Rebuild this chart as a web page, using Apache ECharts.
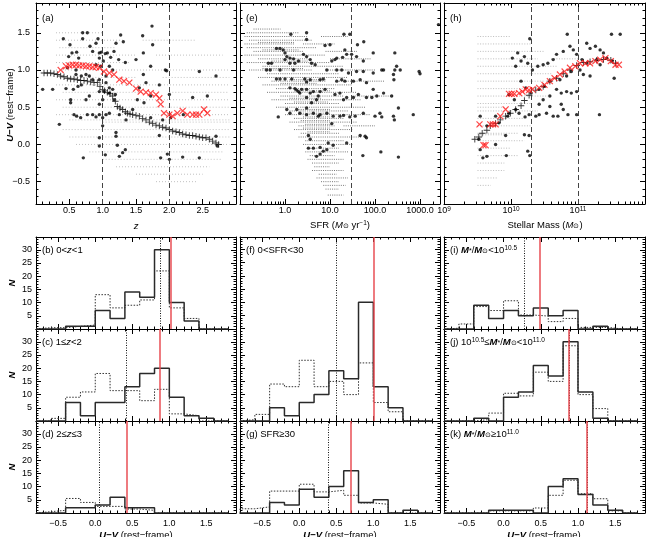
<!DOCTYPE html>
<html><head><meta charset="utf-8">
<script src="https://cdn.jsdelivr.net/npm/echarts@6/dist/echarts.min.js"></script>
<style>html,body{margin:0;padding:0;background:#fff}#c{width:650px;height:537px}</style>
</head><body><div id="c"></div><script>
// ---------------- DATA ----------------
// Panel (a): redshift z vs U-V
const aBlack = [[0.41,1.42],[0.51,1.34],[0.54,1.23],[0.49,1.18],[0.70,1.50],[0.61,1.24],[0.64,1.16],[0.70,1.42],[0.77,1.50],[0.81,1.32],[0.85,1.25],[0.90,1.36],[0.93,1.42],[0.95,1.23],[0.98,1.24],[1.04,1.22],[1.07,1.23],[1.12,1.17],[1.17,1.25],[1.20,1.36],[1.24,1.14],[1.27,1.47],[1.31,1.38],[1.34,1.10],[1.50,1.14],[1.60,1.46],[1.61,1.23],[1.74,1.59],[1.75,1.34],[1.61,0.94],[1.72,1.05],[1.94,1.00],[1.96,0.99],[2.45,0.98],[2.70,0.92],[2.57,0.65],
[0.47,1.03],[0.60,0.94],[0.68,0.92],[0.75,0.94],[0.80,0.92],[0.90,1.07],[0.95,1.16],[0.97,1.05],[1.01,1.12],[1.05,0.92],[1.10,1.05],[1.15,1.00],[0.85,0.87],[0.95,0.87],[0.68,0.80],[0.63,0.78],[0.56,0.74],[0.45,0.75],[0.25,0.74],[0.60,1.00],[1.05,0.83],[1.10,0.76],[0.95,0.71],[1.02,0.71],[1.10,0.69],[1.15,0.74],[1.17,0.60],[1.19,0.67],[0.80,0.65],[0.75,0.60],[0.95,0.54],[1.00,0.60],[1.55,0.76],[1.65,0.83],[1.72,0.65],[1.85,0.80],[2.00,0.67],
[0.52,0.60],[0.52,0.56],[0.57,0.40],[0.61,0.38],[0.67,0.36],[0.77,0.40],[0.85,0.40],[0.90,0.37],[0.95,0.40],[1.05,0.40],[1.10,0.42],[1.25,0.40],[1.35,0.33],[1.45,0.47],[1.52,0.60],[1.62,0.56],[1.72,0.36],[1.90,0.33],[2.02,0.36],[2.21,0.40],[2.35,0.63],[0.35,0.27],[1.00,0.25],[1.00,0.36],[1.20,0.16],
[0.95,-0.02],[0.95,0.09],[1.04,-0.14],[1.20,0.11],[1.22,-0.01],[1.25,-0.16],[1.30,-0.11],[1.34,-0.07],[1.85,0.12],[1.87,-0.18],[1.97,-0.13],[2.00,-0.20],[2.20,-0.17],[2.45,-0.18],[2.70,0.11],[2.72,-0.02],[0.71,-0.18],[0.10,0.74]];
const aPlus = [[0.12,0.96],[0.17,0.96],[0.22,0.96],[0.27,0.95],[0.32,0.94],[0.37,0.92],[0.42,0.91],[0.47,0.89],[0.52,0.88],[0.57,0.88],[0.62,0.87],[0.67,0.86],[0.72,0.86],[0.77,0.85],[0.82,0.84],[0.87,0.83],[0.92,0.83],[0.96,0.78],[1.00,0.74],[1.03,0.72],[1.07,0.70],[1.11,0.68],[1.15,0.65],[1.19,0.58],[1.22,0.51],[1.26,0.49],[1.30,0.47],[1.34,0.44],[1.37,0.42],[1.41,0.41],[1.45,0.40],[1.50,0.39],[1.55,0.38],[1.60,0.35],[1.65,0.33],[1.70,0.30],[1.75,0.28],[1.80,0.26],[1.85,0.25],[1.90,0.23],[1.95,0.22],[2.00,0.20],[2.05,0.18],[2.10,0.17],[2.15,0.16],[2.20,0.14],[2.25,0.13],[2.30,0.12],[2.35,0.12],[2.40,0.11],[2.45,0.10],[2.50,0.09],[2.55,0.09],[2.60,0.07],[2.65,0.045],[2.70,0.02],[2.74,0.0]];
const aCross = [[0.37,1.00],[0.45,1.05],[0.50,1.06],[0.55,1.07],[0.60,1.07],[0.65,1.06],[0.70,1.06],[0.75,1.05],[0.80,1.05],[0.85,1.04],[0.90,1.04],[0.95,1.03],[1.02,0.98],[1.10,0.96],[1.17,0.94],[1.25,0.87],[1.32,0.85],[1.40,0.83],[1.50,0.75],[1.57,0.71],[1.65,0.70],[1.72,0.69],[1.80,0.67],[1.85,0.62],[1.87,0.54],[1.92,0.42],[2.00,0.40],[2.05,0.38],[2.12,0.42],[2.20,0.45],[2.27,0.40],[2.35,0.40],[2.40,0.40],[2.45,0.40],[2.52,0.47],[2.57,0.42]];
// grey background streaks: [x_start, x_end, U-V]
const aGrey = [[0.3,1.0,1.5],[0.3,1.3,1.4],[1.6,2.4,1.4],[0.35,1.2,1.3],[0.3,1.5,1.2],[1.8,2.8,1.2],[0.3,1.4,1.1],[0.3,2.9,1.0],[0.35,1.5,0.9],[1.9,2.9,0.9],[0.3,2.9,0.8],[0.4,1.6,0.7],[2.0,2.9,0.7],[0.3,2.9,0.6],[0.4,2.9,0.5],[0.3,2.9,0.4],[0.5,2.9,0.33],[1.0,2.9,0.3],[0.4,2.9,0.2],[0.5,2.9,0.1],[0.6,2.9,0.0],[0.8,2.8,-0.1],[1.0,2.8,-0.2],[1.2,2.6,-0.3],[1.5,2.5,-0.4],[1.8,2.4,-0.5]];

// Panel (e): log10 SFR vs U-V
const eBlackLogSFR = [[0.13,1.48],[0.48,1.50],[0.48,1.41],[1.31,1.48],[1.44,1.48],[1.75,1.38],[1.61,1.34],[1.0,1.34],[0.89,1.33],[1.33,1.27],[1.37,1.21],[1.28,1.17],[1.15,1.16],[1.11,1.14],[1.04,1.12],[1.48,1.21],[1.59,1.18],[1.74,1.12],[1.96,1.23],[2.44,1.23],[2.48,1.05],[2.44,1.0],[2.56,1.0],[2.41,0.94],[2.42,0.87],[2.98,0.98],[3.0,0.95],[3.41,1.61],[2.19,1.0],[2.15,1.0],[1.96,0.96],[1.74,0.98],[1.59,0.98],[1.41,0.96],[1.26,1.0],[1.15,1.0],[0.93,1.0],[0.67,1.07],[0.59,1.09],[0.56,1.14],[0.48,1.18],[0.41,1.21],[0.30,1.12],[0.22,1.09],[0.11,1.09],[0.04,1.18],[0.0,1.23],[-0.04,1.27],[-0.11,1.29],[-0.19,1.29],[0.0,1.14],[0.11,1.16],[0.19,1.15],[-0.30,1.09],[-0.33,1.0],[-0.41,1.0],[-0.37,1.09],[-0.11,1.0],[0.19,1.0],[-0.19,0.88],[-0.11,0.88],[0.0,0.88],[0.15,0.88],[0.44,0.88],[0.48,0.84],[0.56,0.87],[0.78,0.87],[0.85,0.88],[1.15,0.85],[1.26,0.87],[1.33,0.85],[1.52,0.85],[1.67,0.87],[1.81,0.83],[0.11,0.76],[0.22,0.75],[0.30,0.71],[0.33,0.69],[0.26,0.73],[0.37,0.74],[0.48,0.74],[0.56,0.69],[0.63,0.71],[0.78,0.71],[0.89,0.74],[1.11,0.67],[1.22,0.69],[1.30,0.60],[1.37,0.63],[1.52,0.63],[1.63,0.67],[1.81,0.63],[1.93,0.63],[1.96,0.74],[2.04,0.65],[2.19,0.69],[2.37,0.65],[0.48,0.63],[0.70,0.60],[0.74,0.65],[0.59,0.56],[0.48,0.49],[0.26,0.47],[0.04,0.47],[-0.15,0.37],[0.11,0.42],[0.33,0.42],[0.48,0.40],[0.63,0.42],[0.74,0.38],[0.78,0.40],[0.93,0.42],[1.07,0.38],[1.22,0.38],[1.30,0.39],[1.44,0.37],[1.56,0.38],[1.74,0.42],[2.0,0.38],[2.11,0.42],[2.15,0.37],[2.41,0.38],[2.43,0.33],[2.52,0.49],[2.85,0.40],[1.04,0.28],[0.52,0.12],[0.56,0.07],[1.37,0.02],[1.67,0.12],[1.78,0.11],[1.81,0.09],[1.07,-0.01],[0.93,-0.07],[0.85,-0.09],[0.78,-0.13],[0.70,-0.16],[0.52,-0.05],[0.63,-0.05],[0.78,-0.04],[0.96,0.02],[1.73,-0.15],[2.13,-0.10],[2.52,-0.17]];
const eGreyLogSFR = [[-0.7,-0.1,1.55],[-0.85,0.3,1.50],[-0.9,0.5,1.45],[0.8,1.4,1.45],[-0.8,0.6,1.40],[-0.6,0.2,1.37],[-0.9,0.2,1.35],[0.4,1.1,1.35],[-0.85,0.7,1.30],[-0.5,0.3,1.27],[-0.7,0.4,1.25],[0.9,1.6,1.25],[-0.9,0.9,1.20],[-0.6,0.5,1.15],[1.0,1.9,1.15],[-0.3,0.5,1.12],[-0.85,1.0,1.10],[-0.5,1.3,1.05],[-0.8,0.6,1.00],[0.9,2.0,1.00],[-0.5,0.4,1.02],[-0.4,1.2,0.95],[-0.6,1.4,0.90],[0.1,0.9,0.87],[-0.3,0.9,0.85],[1.2,2.2,0.85],[-0.1,0.7,0.82],[-0.5,1.5,0.80],[-0.2,1.1,0.75],[0.2,1.0,0.72],[-0.4,1.6,0.70],[-0.1,1.3,0.65],[1.5,2.4,0.65],[0.1,0.8,0.62],[-0.3,1.7,0.60],[0.2,0.95,0.57],[0.0,1.2,0.55],[-0.2,1.8,0.50],[0.3,1.0,0.47],[0.1,1.4,0.45],[0.3,1.0,0.42],[0.0,1.9,0.40],[0.4,1.0,0.37],[0.2,1.3,0.35],[0.35,1.0,0.32],[0.1,1.6,0.30],[0.45,1.05,0.27],[0.3,1.1,0.25],[1.3,2.0,0.25],[0.4,1.0,0.22],[0.2,1.5,0.20],[0.5,1.0,0.17],[0.35,1.2,0.15],[0.3,1.7,0.10],[0.45,1.3,0.05],[0.4,1.5,0.00],[0.5,1.2,-0.05],[0.45,1.4,-0.10],[0.55,1.1,-0.15],[0.5,1.3,-0.20],[0.6,1.2,-0.25],[0.65,1.0,-0.30],[0.6,1.3,-0.35],[0.75,1.15,-0.40],[0.7,1.4,-0.45],[0.8,1.2,-0.50],[0.85,1.35,-0.55],[0.9,1.2,-0.60],[0.95,1.3,-0.68]];

// Panel (h): log10 stellar mass vs U-V
const hBlackLogM = [[10.28,1.42],[10.84,1.48],[11.50,1.48],[11.63,1.48],[11.13,1.36],[11.18,1.29],[11.26,1.32],[11.33,1.27],[11.38,1.23],[11.43,1.16],[11.51,1.12],[11.33,1.07],[11.28,1.14],[11.13,1.09],[11.06,1.14],[10.98,1.21],[10.93,1.27],[10.88,1.32],[10.78,1.25],[10.68,1.21],[10.63,1.14],[10.55,1.09],[10.48,1.07],[10.40,1.05],[10.32,1.0],[10.25,1.09],[10.20,1.18],[10.15,1.12],[10.10,1.23],[10.07,1.05],[10.02,1.16],[11.03,1.0],[11.08,0.94],[11.18,0.92],[10.90,0.98],[10.83,0.92],[10.73,0.87],[10.58,0.85],[10.50,0.78],[10.42,0.74],[10.30,0.69],[10.22,0.76],[10.15,0.85],[10.68,0.74],[10.75,0.69],[10.83,0.71],[10.90,0.69],[10.98,0.71],[10.58,0.65],[10.48,0.60],[10.42,0.54],[10.58,0.51],[10.75,0.54],[10.78,0.47],[10.63,0.38],[10.70,0.38],[10.53,0.42],[10.42,0.40],[10.37,0.38],[10.27,0.40],[10.21,0.37],[10.85,0.40],[10.98,0.40],[11.32,0.40],[10.20,0.13],[10.27,0.12],[10.25,-0.09],[10.28,-0.15],[9.92,0.12],[9.77,0.0],[9.64,-0.16],[9.54,-0.07],[9.58,-0.18],[9.93,-0.15],[9.54,0.38],[9.77,0.38],[9.95,0.38],[9.64,0.25],[9.82,0.29],[9.52,0.07],[9.97,0.42],[10.07,0.47],[10.12,0.42],[10.05,0.60],[9.97,0.67],[11.54,0.89]];
const hPlusLogM = [[9.46,0.07],[9.52,0.10],[9.57,0.15],[9.64,0.19],[9.69,0.25],[9.77,0.28],[9.84,0.33],[9.92,0.38],[9.99,0.42],[10.07,0.47],[10.15,0.52],[10.20,0.59],[10.27,0.66],[10.37,0.73],[10.48,0.78],[10.58,0.85],[10.68,0.89],[10.78,0.95],[10.88,1.0],[10.98,1.06],[11.08,1.10],[11.18,1.11],[11.28,1.13],[11.38,1.14],[11.49,1.13],[11.56,1.09]];
const hCrossLogM = [[9.53,0.27],[9.59,-0.01],[9.62,-0.01],[9.69,0.27],[9.73,0.27],[9.77,0.27],[9.84,0.38],[9.92,0.47],[9.97,0.68],[10.01,0.68],[10.05,0.68],[10.12,0.69],[10.17,0.71],[10.22,0.74],[10.27,0.73],[10.32,0.74],[10.42,0.76],[10.50,0.80],[10.58,0.85],[10.65,0.89],[10.73,0.94],[10.80,0.98],[10.88,1.03],[10.96,1.05],[11.03,1.09],[11.11,1.09],[11.18,1.09],[11.26,1.12],[11.33,1.14],[11.41,1.16],[11.49,1.12],[11.56,1.07],[11.61,1.07]];
const hGreyLogM = [[9.5,10.0,1.45],[9.5,10.3,1.35],[9.5,10.5,1.25],[9.5,10.4,1.15],[10.6,11.0,1.15],[9.5,10.7,1.05],[9.5,10.6,0.95],[9.5,10.5,0.85],[9.5,10.4,0.75],[9.5,10.6,0.65],[9.5,10.3,0.55],[9.5,9.9,0.50],[9.5,10.4,0.45],[9.5,10.2,0.35],[9.5,10.3,0.25],[9.5,10.1,0.15],[9.5,9.9,0.13],[9.5,10.2,0.05],[9.5,10.0,-0.05],[9.5,10.1,-0.15],[9.5,9.9,-0.25],[9.5,9.9,-0.35],[9.5,9.8,-0.45],[9.5,9.7,-0.55]];

// Histograms of U-V (bins of 0.2 from -0.8 to 1.8)
const binEdges = [-0.8,-0.6,-0.4,-0.2,0.0,0.2,0.4,0.6,0.8,1.0,1.2,1.4,1.6,1.8];
const b_solid  = [0,0,0,1,1,7,4,14,12,30,10,3,0];
const b_dotted = [0,0.5,0.5,1,1.5,13,8,9,11,22,8,4,0];
const c_solid  = [0,0,0,7,2,7,7,13,18,20,9,2,1];
const c_dotted = [0,0,1,9,11,18,11.5,11.5,7.7,12,2.7,2,0];
const d_solid  = [0,0,0,2,2,3,6,2,2,0,0,0,0];
const d_dotted = [0,0.5,1,5.5,4,2.5,2.5,1.5,1,0,0,0,0];
const f_solid  = [0,0,0,5,2,7,10,19,16,45,13,5,0];
const f_dotted = [0,0.5,2.5,14,13,23,13,15,10,22,7,3.5,0];
const g_solid  = [0,0,0,4,3,9,6,10,16,4,5,0,1];
const g_dotted = [0,1.6,2.3,8.3,8.3,10.9,8,8.6,6.7,3.8,3.3,0,0];
const i_solid  = [0,0,0,9,4,7,5,8,5,7,0,1,0];
const i_dotted = [0,0.3,1.9,8.5,7,10.7,5.3,4.9,2.8,4,0.6,0.6,0];
const j_solid  = [0,0,0,1,0,9,11,21,17,30,11,1,0];
const j_dotted = [0,0,0,0.5,3,10.5,9.5,18.5,15,28.5,10,4.7,0];
const k_solid  = [0,0,0,0,1,1,1,0,10,13,7,3,1];
const k_dotted = [0,0,0,0,0.8,0.8,0.8,1.9,6.7,12.4,7.3,5.4,0.8];
const histPanels   = ['b','c','d','f','g','i','j','k'];
const histMedDotted = [0.876,0.425,0.055,0.496,0.39,0.279,0.88,1.117];
const histMedRed    = [1.02,0.866,0.416,1.01,0.70,0.48,0.883,1.117];
const zCuts = [1,2];
const sfrCuts = [30];
const massCuts = [2e10,1e11];
const uvTicks = [-0.5,0,0.5,1.0,1.5];
const zTicks = [0.5,1.0,1.5,2.0,2.5];
const nTicks = [5,10,15,20,25,30];

// ---------------- LAYOUT ----------------
const F = "'Liberation Sans', Arial, Helvetica, sans-serif";
const TL = 9;
const grids = {
  a:{left:36,top:3,width:200,height:201}, e:{left:240,top:3,width:200,height:201}, h:{left:444,top:3,width:201,height:201},
  b:{left:36,top:237,width:200,height:92}, c:{left:36,top:329,width:200,height:92}, d:{left:36,top:421,width:200,height:92},
  f:{left:240,top:237,width:200,height:184}, g:{left:240,top:421,width:200,height:92},
  i:{left:444,top:237,width:201,height:92}, j:{left:444,top:329,width:201,height:92}, k:{left:444,top:421,width:201,height:92}
};
const gridKeys = Object.keys(grids);
const gridList = gridKeys.map(k => Object.assign({containLabel:false, show:false}, grids[k]));
const gi = k => gridKeys.indexOf(k);
const PXC = 2.64; // px per count
const xAxis = [], yAxis = [];
function minus(s){ return s.replace('-', '\u2212'); }
function addDir(list, g, dim, cfg) {
  const poses = dim === 'x' ? ['bottom','top'] : ['left','right'];
  let mainIdx = -1;
  poses.forEach((pos, k) => {
    const ax = {
      type: cfg.type, gridIndex: g, position: pos, min: cfg.min, max: cfg.max,
      axisLine: {show: true, onZero: false, lineStyle: {color: '#000', width: 1}},
      axisTick: {show: true, inside: true, length: 5, lineStyle: {color: '#000', width: 1}},
      axisLabel: {show: false}, splitLine: {show: false}, splitArea:{show:false}
    };
    if (cfg.type === 'log') ax.logBase = 10;
    if (cfg.interval != null) ax.interval = cfg.interval;
    if (cfg.majors) ax.axisTick.customValues = cfg.majors;
    if (k === 0 && cfg.labelShow) {
      ax.axisLabel = {show: true, fontSize: TL, fontFamily: F, color: '#000', margin: cfg.margin,
        formatter: cfg.labelFmt, showMinLabel: true, showMaxLabel: true, hideOverlap: false};
      if (cfg.labelVals) ax.axisLabel.customValues = cfg.labelVals;
      if (cfg.rich) ax.axisLabel.rich = cfg.rich;
    }
    if (k === 0) mainIdx = list.length;
    list.push(ax);
    const mn = {
      type: 'value', gridIndex: g, position: pos, min: cfg.minor.min, max: cfg.minor.max,
      axisLine: {show: false, onZero: false},
      axisTick: {show: true, inside: true, length: 2.5, lineStyle: {color: '#000', width: 1}},
      axisLabel: {show: false}, splitLine: {show: false}
    };
    if (cfg.minor.vals) mn.axisTick.customValues = cfg.minor.vals; else mn.interval = cfg.minor.interval;
    list.push(mn);
  });
  return mainIdx;
}
const uvCfg = (show, margin) => ({type:'value', min:-0.8, max:1.9, majors:uvTicks, labelShow:show, labelVals:uvTicks, margin:margin,
  labelFmt: v => minus((Math.round(v*10)/10).toFixed(1)), minor:{min:-0.8, max:1.9, interval:0.1}});
function logMinors(d0, d1, maxLog) { const out=[]; for (let d=d0; d<=d1; d++) for (let m=2;m<=9;m++){ const v=d+Math.log10(m); if (v<maxLog) out.push(v);} return out; }
const AX = {};
const eMax = 2780, eMaxLog = Math.log10(eMax);
AX.a = { x: addDir(xAxis, gi('a'), 'x', {type:'value', min:0, max:3, interval:0.5, labelShow:true, labelVals:zTicks, margin:2,
            labelFmt: v => v.toFixed(1), minor:{min:0,max:3,interval:0.1}}),
         y: addDir(yAxis, gi('a'), 'y', uvCfg(true, 6)) };
AX.e = { x: addDir(xAxis, gi('e'), 'x', {type:'log', min:0.1, max:eMax, labelShow:true, margin:2,
            labelFmt: v => { const l = Math.log10(v); return (Math.abs(l-Math.round(l))<1e-6 && l>-0.5 && l<3.2) ? v.toFixed(1) : ''; },
            minor:{min:-1, max:eMaxLog, vals:logMinors(-1,3,eMaxLog)}}),
         y: addDir(yAxis, gi('e'), 'y', uvCfg(false, 6)) };
AX.h = { x: addDir(xAxis, gi('h'), 'x', {type:'log', min:1e9, max:1e12, labelShow:true, margin:2,
            labelFmt: v => { const l = Math.round(Math.log10(v)); return l<12 ? '10{s|'+l+'}' : ''; },
            rich:{s:{fontSize:6.5, fontFamily:F, verticalAlign:'top', lineHeight:6, padding:[0,0,5,0]}},
            minor:{min:9, max:12, vals:logMinors(9,11,12)}}),
         y: addDir(yAxis, gi('h'), 'y', uvCfg(false, 6)) };
histPanels.forEach(p => {
  const g = grids[p];
  const ymax = g.height / PXC;
  const col1 = (g.left === 36);
  AX[p] = {
    x: addDir(xAxis, gi(p), 'x', uvCfg(p==='d'||p==='g'||p==='k', 6)),
    y: addDir(yAxis, gi(p), 'y', {type:'value', min:0, max:ymax, interval:5, labelShow:col1, margin:4, labelVals:nTicks,
        labelFmt: v => String(v), minor:{min:0, max:ymax, interval:1}})
  };
});

// ---------------- SERIES ----------------
const PLUS = 'path://M4.3,0H5.7V4.3H10V5.7H5.7V10H4.3V5.7H0V4.3H4.3Z';
const series = [];
function greySeries(p, segs, conv, color, alpha, dash) {
  series.push({type:'custom', xAxisIndex:AX[p].x, yAxisIndex:AX[p].y, silent:true, clip:true, z:1,
    data: segs.map(s => [conv(s[0]), conv(s[1]), s[2]]), encode:{x:[0,1], y:2},
    renderItem: (params, api) => {
      const p1 = api.coord([api.value(0), api.value(2)]);
      const p2 = api.coord([api.value(1), api.value(2)]);
      return {type:'line', shape:{x1:p1[0], y1:p1[1], x2:p2[0], y2:p2[1]},
        style:{stroke:color, lineWidth:1, lineDash:dash, opacity:alpha}};
    }});
}
function dots(p, data, cuts) {
  const s = {type:'scatter', xAxisIndex:AX[p].x, yAxisIndex:AX[p].y, data:data, symbol:'circle', symbolSize:3.4,
    itemStyle:{color:'#000'}, silent:true, z:3};
  if (cuts) s.markLine = {silent:true, symbol:['none','none'], label:{show:false},
    lineStyle:{color:'#444', type:[5,3], width:1}, data: cuts.map(v => ({xAxis:v}))};
  series.push(s);
}
function plus(p, data) {
  series.push({type:'scatter', xAxisIndex:AX[p].x, yAxisIndex:AX[p].y, data:data, symbol:PLUS, symbolSize:6.5,
    itemStyle:{color:'#000'}, silent:true, z:4});
}
function cross(p, data) {
  series.push({type:'scatter', xAxisIndex:AX[p].x, yAxisIndex:AX[p].y, data:data, symbol:PLUS, symbolSize:8.5, symbolRotate:45,
    itemStyle:{color:'#ff1a1a'}, silent:true, z:5});
}
const id = v => v, p10 = v => Math.pow(10, v);
greySeries('a', aGrey, id, '#9a9a9a', 0.6, [1,2]);
dots('a', aBlack, zCuts); plus('a', aPlus); cross('a', aCross);
greySeries('e', eGreyLogSFR, p10, '#6a6a6a', 0.9, [1,1.2]);
dots('e', eBlackLogSFR.map(d => [p10(d[0]), d[1]]), sfrCuts);
greySeries('h', hGreyLogM, p10, '#9a9a9a', 0.65, [1,1.6]);
dots('h', hBlackLogM.map(d => [p10(d[0]), d[1]]), massCuts);
plus('h', hPlusLogM.map(d => [p10(d[0]), d[1]]));
cross('h', hCrossLogM.map(d => [p10(d[0]), d[1]]));

const histData = {b:[b_solid,b_dotted], c:[c_solid,c_dotted], d:[d_solid,d_dotted], f:[f_solid,f_dotted],
  g:[g_solid,g_dotted], i:[i_solid,i_dotted], j:[j_solid,j_dotted], k:[k_solid,k_dotted]};
function stepData(counts) {
  const d = [[binEdges[0], 0]];
  counts.forEach((c, i) => d.push([binEdges[i], c]));
  d.push([binEdges[binEdges.length-1], 0]);
  return d;
}
histPanels.forEach((p, n) => {
  const [sol, dot] = histData[p];
  series.push({type:'line', xAxisIndex:AX[p].x, yAxisIndex:AX[p].y, data:stepData(dot), step:'start', symbol:'none', silent:true, z:2,
    lineStyle:{color:'#333', width:1, type:[1.5,1.5]},
    markLine:{silent:true, symbol:['none','none'], label:{show:false}, lineStyle:{color:'#111', width:1, type:[1,1.5]},
      data:[{xAxis:histMedDotted[n]}]}});
  series.push({type:'line', xAxisIndex:AX[p].x, yAxisIndex:AX[p].y, data:stepData(sol), step:'start', symbol:'none', silent:true, z:3,
    lineStyle:{color:'#2a2a2a', width:1.5},
    markLine:{silent:true, symbol:['none','none'], label:{show:false}, lineStyle:{color:'#e8474f', width:1.6, type:'solid', opacity:0.9},
      data:[{xAxis:histMedRed[n]}]}});
});

// ---------------- TEXT ----------------
const RICH = {
  n:{fontSize:9.5, fontFamily:F, color:'#000'},
  i:{fontSize:9.5, fontFamily:F, fontStyle:'italic', color:'#000'},
  bi:{fontSize:9.5, fontFamily:F, fontStyle:'italic', fontWeight:'bold', color:'#000'},
  sb:{fontSize:7, fontFamily:F, color:'#000', verticalAlign:'bottom', lineHeight:6, padding:[4,0,0,0]},
  sp:{fontSize:6.5, fontFamily:F, color:'#000', verticalAlign:'top', lineHeight:6, padding:[0,0,4,0]}
};
function txt(x, y, text, opts) {
  opts = opts || {};
  return {type:'text', x:x, y:y, rotation:opts.rot || 0, silent:true, z:100,
    style:{text:text, rich:RICH, font:(opts.size||9.5)+'px '+F, fill:'#000', align:opts.align||'left', verticalAlign:opts.va||'middle'}};
}
const MS = '{bi|M}{sb|*}{n|/}{bi|M}{sb|\u2299}';
const graphics = [
  txt(42,18,'{n|(a)}'), txt(246,18,'{n|(e)}'), txt(450,18,'{n|(h)}'),
  txt(42,250,'{n|(b) 0<}{i|z}{n|<1}'), txt(42,342,'{n|(c) 1\u2264}{i|z}{n|<2}'), txt(42,434,'{n|(d) 2\u2264}{i|z}{n|\u22643}'),
  txt(246,250,'{n|(f) 0<SFR<30}'), txt(246,434,'{n|(g) SFR\u226530}'),
  txt(450,250,'{n|(i) }'+MS+'{n|<10}{sp|10.5}'), txt(450,342,'{n|(j) 10}{sp|10.5}{n|\u2264}'+MS+'{n|<10}{sp|11.0}'),
  txt(450,434,'{n|(k) }'+MS+'{n|\u226510}{sp|11.0}'),
  txt(136,226,'{i|z}', {align:'center'}),
  txt(340,225,'{n|SFR (}{i|M}{sb|\u2299}{n| yr}{sp|\u22121}{n|)}', {align:'center'}),
  txt(545,225,'{n|Stellar Mass (}{i|M}{sb|\u2299}{n|)}', {align:'center'}),
  txt(10,105,'{bi|U\u2212V}{n| (rest\u2212frame)}', {align:'center', rot:Math.PI/2}),
  txt(12,283,'{bi|N}', {align:'center', rot:Math.PI/2}), txt(12,375,'{bi|N}', {align:'center', rot:Math.PI/2}), txt(12,467,'{bi|N}', {align:'center', rot:Math.PI/2}),
  txt(136,535,'{bi|U\u2212V}{n| (rest\u2212frame)}', {align:'center'}),
  txt(340,535,'{bi|U\u2212V}{n| (rest\u2212frame)}', {align:'center'}),
  txt(544,535,'{bi|U\u2212V}{n| (rest\u2212frame)}', {align:'center'})
];

const chart = echarts.init(document.getElementById('c'), null, {renderer:'canvas', width:650, height:537});
chart.setOption({
  animation:false, backgroundColor:'#fff', textStyle:{fontFamily:F},
  grid: gridList, xAxis: xAxis, yAxis: yAxis, series: series, graphic: graphics
});
</script></body></html>
